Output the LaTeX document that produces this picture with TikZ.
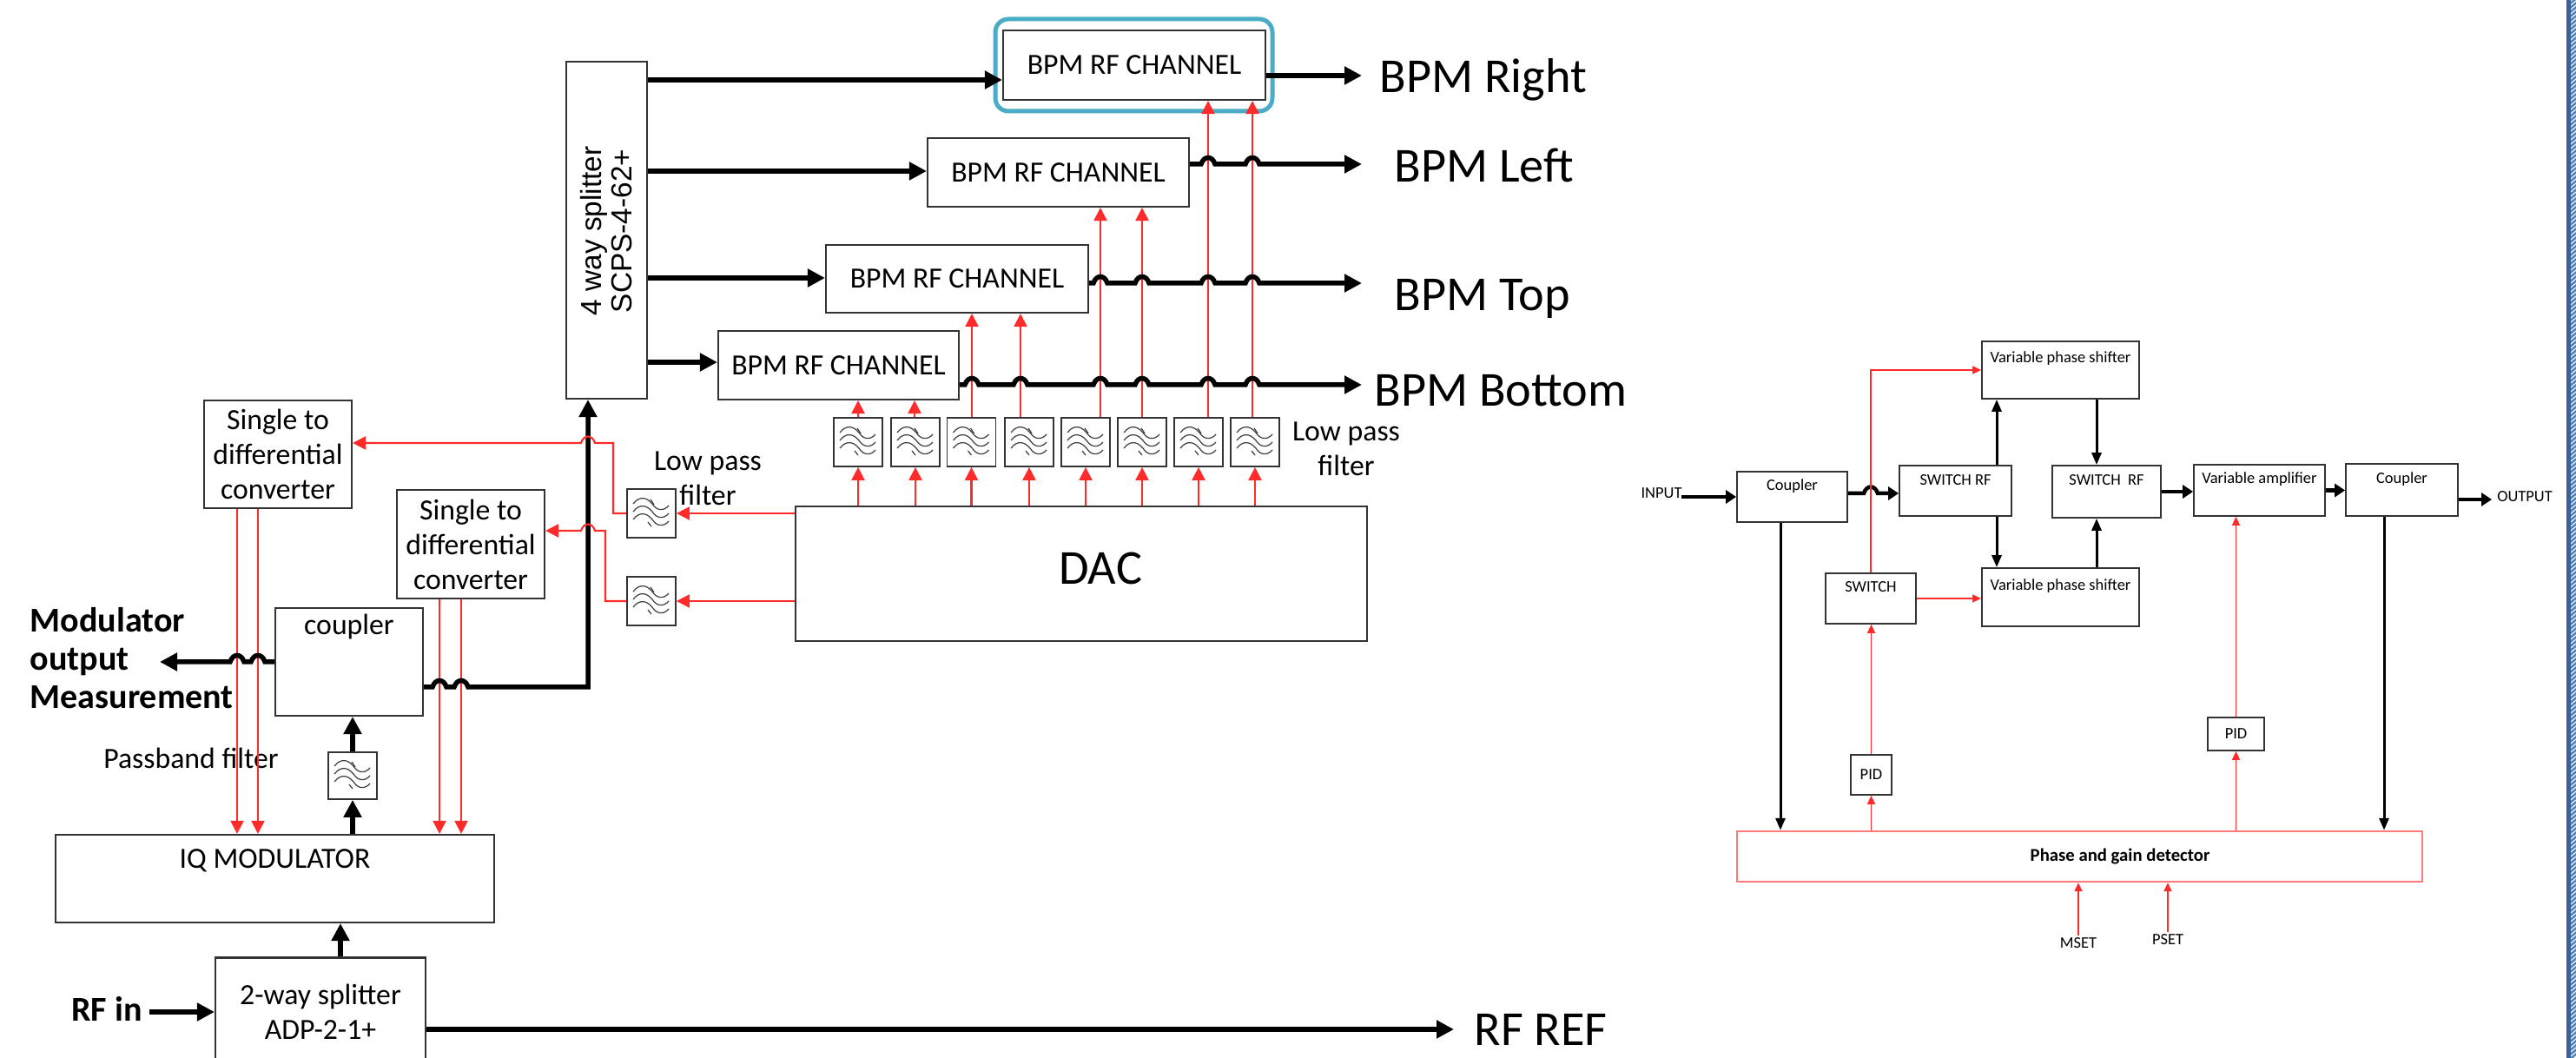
\documentclass[tikz,border=0pt]{standalone}
\usepackage{fontspec}
\setmainfont{Carlito}
\newfontfamily\splitfont{Liberation Sans}
\usetikzlibrary{arrows.meta}
\definecolor{sigred}{HTML}{FF2A2A}
\definecolor{pinkred}{HTML}{FF7A7A}
\definecolor{hiblue}{HTML}{4BACC6}
\definecolor{edgeblue}{HTML}{3A6298}
\definecolor{hatchblue}{HTML}{4F81BD}
\newcommand{\bigfont}{\fontsize{16}{19}\selectfont}
\newcommand{\midfont}{\fontsize{9.6}{11.4}\selectfont}
\newcommand{\tinyfont}{\fontsize{5.25}{6.3}\selectfont}
% line with hops over the given x positions
\newcommand{\hops}[2]{foreach \hx in {#1} {-- (\hx-.08,#2) .. controls (\hx-.05,#2+.1) and (\hx+.05,#2+.1) .. (\hx+.08,#2)}}
\tikzset{
  box/.style={draw=black!80,line width=.6pt,align=center,inner sep=0pt,font=\midfont},
  tinybox/.style={box,line width=.5pt,font=\tinyfont},
  lab/.style={anchor=center,inner sep=0pt,font=\midfont},
  tinylab/.style={lab,font=\tinyfont},
  lpf/.style={draw=black!80,line width=.5pt,minimum width=.56cm,minimum height=.56cm,inner sep=0pt,path picture={
    \begin{scope}[shift={(path picture bounding box.center)},black!75,line width=.35pt]
      \foreach \wy in {.09,0,-.09}
        \draw (-.21,.02+\wy) .. controls (-.13,.12+\wy) and (-.05,.09+\wy) .. (.01,.02+\wy) .. controls (.06,-.06+\wy) and (.14,-.07+\wy) .. (.2,0+\wy);
      \draw (-.01,.16) -- (.03,.1);
      \draw (-.04,-.1) -- (0,-.15);
    \end{scope}}},
  thk/.style={line width=.055cm,>={Triangle[length=.2cm,width=.2cm]},->},
  thkS/.style={line width=.045cm,>={Triangle[length=.12cm,width=.15cm]},->},
  blk/.style={line width=.03cm,>={Triangle[length=.14cm,width=.11cm]},->},
  redarrow/.style={sigred,line width=.6pt,>={Triangle[length=.15cm,width=.15cm]},->},
  redS/.style={sigred,line width=.45pt,>={Triangle[length=.1cm,width=.09cm]},->}
}
\begin{document}
\begin{tikzpicture}
  \useasboundingbox (0,0) rectangle (29.66,12.18);
  % page edge on the right
  \fill[edgeblue] (29.55,0) rectangle (29.6,12.18);
  \begin{scope}
    \clip (29.6,0) rectangle (29.66,12.18);
    \foreach \sy in {0,.05,...,12.2}
      \draw[hatchblue,line width=.025cm] (29.58,\sy-.02) -- (29.68,\sy+.06);
  \end{scope}
  % left diagram
  \node[draw=hiblue,line width=.05cm,rounded corners=.15cm,minimum width=3.19cm,minimum height=1.06cm] (sel) at (13.055,11.43) {};
  \node[box,minimum width=3.02cm,minimum height=.8cm] (chR) at (13.06,11.43) {BPM RF CHANNEL};
  \node[box,minimum width=3.01cm,minimum height=.79cm] (chL) at (12.185,10.195) {BPM RF CHANNEL};
  \node[box,minimum width=3.02cm,minimum height=.78cm] (chT) at (11.02,8.97) {BPM RF CHANNEL};
  \node[box,minimum width=2.77cm,minimum height=.79cm] (chB) at (9.655,7.975) {BPM RF CHANNEL};
  \node[box,minimum width=.93cm,minimum height=3.88cm] (split) at (6.985,9.53) {};
  \node[rotate=90,align=center,font=\splitfont\fontsize{9.5}{10.2}\selectfont] (splittext) at (6.98,9.52) {4 way splitter\\SCPS-4-62+};
  \node[box,minimum width=6.58cm,minimum height=1.55cm] (dac) at (12.45,5.575) {};
  \node[font=\bigfont] (dactext) at (12.67,5.64) {DAC};
  \foreach \n/\xx in {1/9.88,2/10.54,3/11.185,4/11.85,5/12.5,6/13.15,7/13.8,8/14.45} {
    \node[lpf] (f\n) at (\xx,7.09) {};
    \draw[redarrow] (dac.north -| f\n) -- (f\n);
  }
  \node[lpf] (lpA) at (7.5,6.27) {};
  \node[lpf] (lpB) at (7.5,5.26) {};
  \node[box,draw=none,font=\midfont] (lpAtext) at (8.15,6.67) {Low pass\\filter};
  \node[box,draw=none,font=\midfont] (lpCtext) at (15.5,7.01) {Low pass\\filter};
  \node[box,minimum width=1.7cm,minimum height=1.24cm] (s2dA) at (3.2,6.95) {Single to\\differential\\converter};
  \node[box,minimum width=1.7cm,minimum height=1.25cm] (s2dB) at (5.42,5.915) {Single to\\differential\\converter};
  \node[box,minimum width=1.7cm,minimum height=1.24cm,label={[lab,yshift=-.23cm]north:coupler}] (coup) at (4.02,4.56) {};
  \node[lpf,minimum height=.54cm] (pbf) at (4.06,3.25) {};
  \node[box,minimum width=5.05cm,minimum height=1.01cm,label={[lab,yshift=-.31cm]north:IQ MODULATOR}] (iq) at (3.165,2.065) {};
  \node[box,minimum width=2.42cm,minimum height=1.25cm] (way2) at (3.69,.53) {2-way splitter\\ADP-2-1+};
  \node[align=left,font=\bfseries\fontsize{11.4}{12.5}\selectfont,inner sep=0pt,anchor=west] (modtext) at (.34,4.6) {Modulator\\output\\Measurement};
  \node[font=\midfont] (pbtext) at (2.2,3.45) {Passband filter};
  \node[font=\bfseries\fontsize{11.4}{12.5}\selectfont,inner sep=0pt] (rfintext) at (1.23,.57) {RF in};
  \node[font=\bigfont,anchor=base west,inner sep=0pt] (bpmR) at (15.88,11.11) {BPM Right};
  \node[font=\bigfont,anchor=base west,inner sep=0pt] (bpmL) at (16.05,10.08) {BPM Left};
  \node[font=\bigfont,anchor=base west,inner sep=0pt] (bpmT) at (16.05,8.6) {BPM Top};
  \node[font=\bigfont,anchor=base west,inner sep=0pt] (bpmB) at (15.82,7.5) {BPM Bottom};
  \node[font=\bigfont,anchor=base west,inner sep=0pt] (rfref) at (16.97,.14) {RF REF};
  \coordinate (outR) at (15.68,11.31);
  \coordinate (outL) at (15.68,10.29);
  \coordinate (outT) at (15.68,8.92);
  \coordinate (outB) at (15.68,7.75);
  \coordinate (outRF) at (16.74,.33);
  \coordinate (outMod) at (1.84,4.56);
  \coordinate (inRF) at (1.72,.53);
  \foreach \fn/\cn/\xx in {f1/chB/9.88,f2/chB/10.53,f3/chT/11.19,f4/chT/11.75,f5/chL/12.67,f6/chL/13.15,f7/chR/13.91,f8/chR/14.42}
    \draw[redarrow] (\xx,0 |- \fn.north) -- (\xx,0 |- \cn.south);
  \foreach \cn/\yy in {chR/11.26,chL/10.21,chT/8.98,chB/8.01}
    \draw[thk] (split.east |- 0,\yy) -- (\cn.west |- 0,\yy);
  \draw[thk] (chR.east |- outR) -- (outR);
  \draw[thk] (chL.east |- outL) \hops{13.91,14.42}{10.29} -- (outL);
  \draw[thk] (chT.east |- outT) \hops{12.67,13.15,13.91,14.42}{8.92} -- (outT);
  \draw[thk] (chB.east |- outB) \hops{11.19,11.75,12.67,13.15,13.91,14.42}{7.75} -- (outB);
  \draw[redarrow] (dac.west |- lpA) -- (lpA);
  \draw[redarrow] (dac.west |- lpB) -- (lpB);
  \foreach \xx in {2.73,2.97}
    \draw[redarrow] (\xx,0 |- s2dA.south) -- (\xx,0 |- iq.north);
  \foreach \xx in {5.06,5.31}
    \draw[redarrow] (\xx,0 |- s2dB.south) -- (\xx,0 |- iq.north);
  \draw[thk] (coup.east |- 0,4.27) \hops{5.06,5.31}{4.27} -- (6.77,4.27) -- (6.77,0 |- split.south);
  \draw[thk,<-] (outMod) \hops{2.73,2.97}{4.56} -- (coup.west);
  \draw[redarrow,<-] (s2dA.east |- 0,7.08) \hops{6.77}{7.08} -- (7.06,7.08) |- (lpA.west);
  \draw[redarrow,<-] (s2dB.east |- 0,6.07) \hops{6.77}{6.07} -- (6.97,6.07) |- (lpB.west);
  \draw[thk] (iq.north -| pbf) -- (pbf.south);
  \draw[thk] (pbf.north) -- (coup.south -| pbf);
  \draw[thk] (3.92,0 |- way2.north) -- (3.92,0 |- iq.south);
  \draw[thk] (inRF) -- (way2.west);
  \draw[thk] (way2.east |- outRF) -- (outRF);
  % right diagram
  \node[tinybox,minimum width=1.27cm,minimum height=.58cm,label={[tinylab,yshift=-.17cm]north:Coupler}] (cpA) at (20.635,6.46) {};
  \node[tinybox,minimum width=1.29cm,minimum height=.58cm,label={[tinylab,yshift=-.17cm]north:SWITCH RF}] (swA) at (22.515,6.53) {};
  \node[tinybox,minimum width=1.25cm,minimum height=.6cm,label={[tinylab,yshift=-.17cm]north:SWITCH\ \ RF}] (swB) at (24.255,6.52) {};
  \node[tinybox,minimum width=1.51cm,minimum height=.59cm,label={[tinylab,yshift=-.17cm]north:Variable amplifier}] (amp) at (26.015,6.535) {};
  \node[tinybox,minimum width=1.29cm,minimum height=.6cm,label={[tinylab,yshift=-.18cm]north:Coupler}] (cpB) at (27.655,6.54) {};
  \node[tinybox,minimum width=1.81cm,minimum height=.66cm,label={[tinylab,yshift=-.2cm]north:Variable phase shifter}] (vpsA) at (23.725,7.92) {};
  \node[tinybox,minimum width=1.81cm,minimum height=.67cm,label={[tinylab,yshift=-.21cm]north:Variable phase shifter}] (vpsB) at (23.725,5.305) {};
  \node[tinybox,minimum width=1.04cm,minimum height=.58cm,label={[tinylab,yshift=-.16cm]north:SWITCH}] (sw) at (21.54,5.29) {};
  \node[tinybox,minimum width=.47cm,minimum height=.46cm] (pidA) at (21.545,3.26) {PID};
  \node[tinybox,minimum width=.65cm,minimum height=.38cm] (pidB) at (25.745,3.73) {PID};
  \node[tinybox,draw=pinkred,line width=.7pt,minimum width=7.89cm,minimum height=.58cm] (det) at (23.945,2.32) {};
  \node[font=\bfseries\fontsize{5.9}{7}\selectfont] (dettext) at (24.41,2.32) {Phase and gain detector};
  \node[font=\tinyfont,inner sep=.02cm] (mset) at (23.93,1.32) {MSET};
  \node[font=\tinyfont,inner sep=.02cm] (pset) at (24.96,1.36) {PSET};
  \node[font=\tinyfont,inner sep=0pt] (intext) at (19.13,6.5) {INPUT};
  \node[font=\tinyfont,inner sep=0pt] (outtext) at (29.07,6.46) {OUTPUT};
  \coordinate (inS) at (19.36,6.46);
  \coordinate (outS) at (28.69,6.43);
  \draw[thkS] (inS) -- (cpA.west);
  \draw[thkS] (cpA.east |- 0,6.5) \hops{21.54}{6.5} -- (swA.west |- 0,6.5);
  \draw[thkS] (swB.east) -- (amp.west |- swB.east);
  \draw[thkS] (amp.east) -- (cpB.west |- amp.east);
  \draw[thkS] (cpB.east |- outS) -- (outS);
  \draw[blk] (22.99,0 |- swA.north) -- (22.99,0 |- vpsA.south);
  \draw[blk] (22.99,0 |- swA.south) -- (22.99,0 |- vpsB.north);
  \draw[blk] (24.14,0 |- vpsA.south) -- (24.14,0 |- swB.north);
  \draw[blk] (24.14,0 |- vpsB.north) -- (24.14,0 |- swB.south);
  \draw[blk] (20.5,0 |- cpA.south) -- (20.5,0 |- det.north);
  \draw[blk] (27.45,0 |- cpB.south) -- (27.45,0 |- det.north);
  \draw[redS] (sw.north) |- (vpsA.west);
  \draw[redS] (sw.east) -- (vpsB.west |- sw.east);
  \draw[redS] (pidA.north) -- (sw.south -| pidA);
  \draw[redS] (det.north -| pidA) -- (pidA.south);
  \draw[redS] (det.north -| pidB) -- (pidB.south);
  \draw[redS] (pidB.north) -- (amp.south -| pidB);
  \draw[redS] (mset.north) -- (mset.north |- det.south);
  \draw[redS] (pset.north) -- (pset.north |- det.south);
\end{tikzpicture}
\end{document}
